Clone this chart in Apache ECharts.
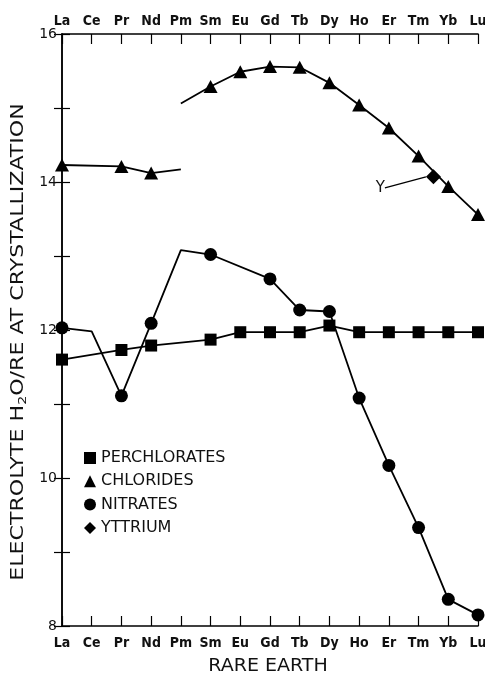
<!DOCTYPE html>
<html><head><meta charset="utf-8">
<script src="https://cdn.jsdelivr.net/npm/echarts@6/dist/echarts.min.js"></script>
<style>html,body{margin:0;padding:0;background:#fff}#c{width:485px;height:676px}</style>
</head><body><div id="c"></div>
<script>
// ---- data ----
const categories = ['La','Ce','Pr','Nd','Pm','Sm','Eu','Gd','Tb','Dy','Ho','Er','Tm','Yb','Lu'];
const yTickLabels = [8, 10, 12, 14, 16];
const perchlorates = [11.60, null, 11.73, 11.79, null, 11.87, 11.97, 11.97, 11.97, 12.06, 11.97, 11.97, 11.97, 11.97, 11.97];
const chloridesLight = [14.23, null, 14.21, 14.12, 14.17, null, null, null, null, null, null, null, null, null, null];
const chloridesHeavy = [null, null, null, null, 15.06, 15.29, 15.49, 15.56, 15.55, 15.34, 15.04, 14.73, 14.35, 13.94, 13.56];
const nitrates = [12.03, 11.98, 11.11, 12.09, 13.08, 13.02, null, 12.69, 12.27, 12.25, 11.08, 10.17, 9.33, 8.36, 8.15];
const chloridesLineOnly = ['Pm'];
const chloridesHeavyLineOnly = ['Pm'];
const nitratesLineOnly = ['Ce', 'Pm'];
const yttriumPosition = 12.5; // between Tm and Yb
const yttriumValue = 14.07;
const yttriumLabel = 'Y';
const xTitle = 'RARE EARTH';
const yTitle = ['ELECTROLYTE H', '2', 'O/RE AT CRYSTALLIZATION'];

// ---- helpers ----
function pairs(arr, lineOnly) {
  const out = [];
  arr.forEach((v, i) => {
    if (v == null) return;
    const item = { value: [i, v] };
    if (lineOnly && lineOnly.indexOf(categories[i]) >= 0) item.symbol = 'none';
    out.push(item);
  });
  return out;
}
const BLACK = '#000';
const catFont = { color: '#111', fontFamily: 'DejaVu Sans Condensed', fontWeight: 'bold', fontSize: 14 };
const lineBase = {
  type: 'line', lineStyle: { color: BLACK, width: 1.8 }, itemStyle: { color: BLACK, opacity: 1 },
  showAllSymbol: true, z: 3
};

const chart = echarts.init(document.getElementById('c'), null, { renderer: 'canvas' });
chart.setOption({
  animation: false,
  backgroundColor: '#fff',
  grid: { left: 62, right: 7, top: 34, bottom: 50, outerBoundsMode: 'none', containLabel: false },
  legend: {
    orient: 'vertical', left: 84, top: 450, itemWidth: 12, itemHeight: 12, itemGap: 7.3,
    padding: 0, selectedMode: false,
    textStyle: { color: '#111', fontFamily: 'DejaVu Sans', fontSize: 16, lineHeight: 14 },
    itemStyle: { color: BLACK, opacity: 1 },
    data: [
      { name: 'PERCHLORATES', icon: 'rect' },
      { name: 'CHLORIDES', icon: 'triangle' },
      { name: 'NITRATES', icon: 'circle' },
      { name: 'YTTRIUM', icon: 'diamond' }
    ]
  },
  graphic: [
    {
      type: 'text', x: 268, y: 667, scaleX: 1.12, silent: true,
      style: { text: xTitle, fontFamily: 'DejaVu Sans', fontSize: 17, fill: '#111', align: 'center', verticalAlign: 'middle' }
    },
    {
      type: 'text', x: 19, y: 342, rotation: Math.PI / 2, scaleX: 1.3, silent: true,
      style: {
        text: '{t|' + yTitle[0] + '}{s|' + yTitle[1] + '}{t|' + yTitle[2] + '}',
        align: 'center', verticalAlign: 'middle',
        rich: {
          t: { fontFamily: 'DejaVu Sans', fontSize: 17, fill: '#111' },
          s: { fontFamily: 'DejaVu Sans', fontSize: 11, fill: '#111', verticalAlign: 'bottom', padding: [9, 0, 0, 0] }
        }
      }
    }
  ],
  xAxis: [
    {
      type: 'value', position: 'bottom', min: 0, max: categories.length - 1, interval: 1,
      axisLine: { show: true, lineStyle: { color: BLACK, width: 1.6 } },
      axisTick: { show: true, inside: true, length: 10, lineStyle: { color: BLACK, width: 1.2 } },
      axisLabel: Object.assign({ margin: 10, formatter: v => categories[v] || '' }, catFont),
      splitLine: { show: false }
    },
    {
      type: 'value', position: 'top', min: 0, max: categories.length - 1, interval: 1,
      axisLine: { show: true, lineStyle: { color: BLACK, width: 1.6 } },
      axisTick: { show: true, inside: true, length: 10, lineStyle: { color: BLACK, width: 1.2 } },
      axisLabel: Object.assign({ margin: 6, formatter: v => categories[v] || '' }, catFont),
      splitLine: { show: false }
    }
  ],
  yAxis: [
    {
      type: 'value', position: 'left', min: 8, max: 16, interval: 1,
      axisLine: { show: true, lineStyle: { color: BLACK, width: 1.5 } },
      axisTick: { show: true, inside: true, length: 8, lineStyle: { color: BLACK, width: 1.2 } },
      axisLabel: {
        margin: 5, color: '#111', fontFamily: 'DejaVu Sans', fontSize: 14,
        formatter: v => (yTickLabels.indexOf(v) >= 0 ? String(v) : '')
      },
      splitLine: { show: false }
    },
    {
      type: 'value', position: 'right', min: 8, max: 16, interval: 1,
      axisLine: { show: true, lineStyle: { color: BLACK, width: 1.5 } },
      axisTick: { show: true, inside: true, length: 8, lineStyle: { color: BLACK, width: 1.2 } },
      axisLabel: { show: false },
      splitLine: { show: false }
    }
  ],
  series: [
    Object.assign({}, lineBase, {
      name: 'PERCHLORATES', symbol: 'rect', symbolSize: 12,
      data: pairs(perchlorates)
    }),
    Object.assign({}, lineBase, {
      name: 'CHLORIDES', symbol: 'triangle', symbolSize: [14, 13],
      data: pairs(chloridesLight, chloridesLineOnly)
    }),
    Object.assign({}, lineBase, {
      name: 'CHLORIDES', symbol: 'triangle', symbolSize: [14, 13],
      data: pairs(chloridesHeavy, chloridesHeavyLineOnly)
    }),
    Object.assign({}, lineBase, {
      name: 'NITRATES', symbol: 'circle', symbolSize: 13,
      data: pairs(nitrates, nitratesLineOnly)
    }),
    {
      name: 'YTTRIUM', type: 'scatter', symbol: 'diamond', symbolSize: 15, z: 4,
      itemStyle: { color: BLACK, opacity: 1 },
      data: [[yttriumPosition, yttriumValue]],
      label: {
        show: true, formatter: yttriumLabel, position: 'left', distance: 5,
        color: '#111', fontFamily: 'DejaVu Sans', fontSize: 15
      },
      labelLayout: { dx: -36, dy: 11 },
      labelLine: { show: true, lineStyle: { color: BLACK, width: 1.2 } }
    }
  ]
});
</script>
</body></html>
